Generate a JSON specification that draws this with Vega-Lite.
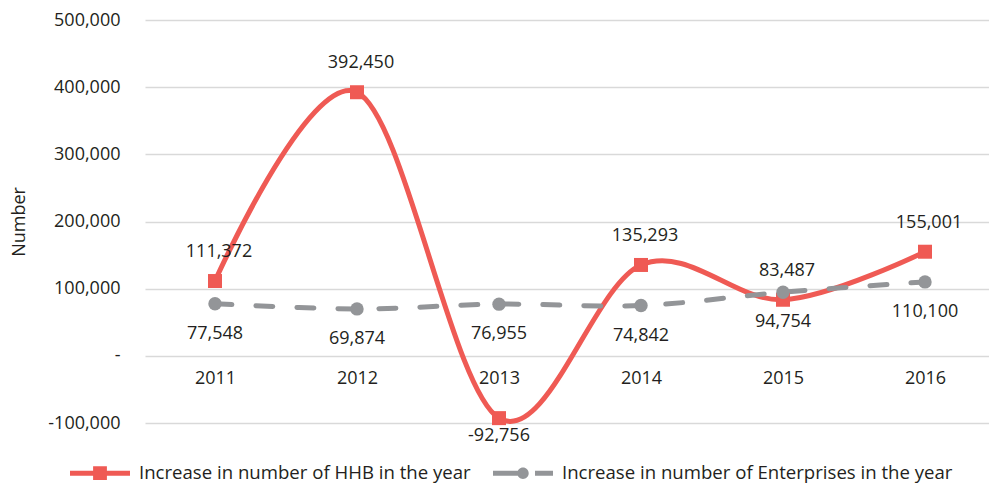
{
  "$schema": "https://vega.github.io/schema/vega-lite/v6.json",
  "width": 844,
  "height": 403,
  "autosize": {"type": "none"},
  "padding": {"left": 145, "top": 20, "right": 0, "bottom": 62},
  "config": {
    "font": "Open Sans",
    "view": {"stroke": null},
    "axis": {"labelFont": "Open Sans", "labelFontSize": 18, "labelColor": "#231f20", "titleFont": "Open Sans", "titleFontSize": 18, "titleColor": "#231f20", "titleFontWeight": "normal"}
  },
  "data": {
    "values": [
      {"year": "2011", "series": "Increase in number of HHB in the year", "value": 111372},
      {"year": "2012", "series": "Increase in number of HHB in the year", "value": 392450},
      {"year": "2013", "series": "Increase in number of HHB in the year", "value": -92756},
      {"year": "2014", "series": "Increase in number of HHB in the year", "value": 135293},
      {"year": "2015", "series": "Increase in number of HHB in the year", "value": 83487},
      {"year": "2016", "series": "Increase in number of HHB in the year", "value": 155001},
      {"year": "2011", "series": "Increase in number of Enterprises in the year", "value": 77548},
      {"year": "2012", "series": "Increase in number of Enterprises in the year", "value": 69874},
      {"year": "2013", "series": "Increase in number of Enterprises in the year", "value": 76955},
      {"year": "2014", "series": "Increase in number of Enterprises in the year", "value": 74842},
      {"year": "2015", "series": "Increase in number of Enterprises in the year", "value": 94754},
      {"year": "2016", "series": "Increase in number of Enterprises in the year", "value": 110100}
    ]
  },
  "transform": [
    {"calculate": "replace(format(datum.value, ','), '\u2212', '-')", "as": "label"}
  ],
  "encoding": {
    "x": {
      "field": "year",
      "type": "ordinal",
      "scale": {"type": "point", "padding": 0.4718, "align": 0.5224},
      "axis": {"title": null, "orient": "bottom", "offset": -67, "domain": false, "ticks": false, "labelAngle": 0, "labelPadding": 13, "grid": false}
    },
    "y": {
      "field": "value",
      "type": "quantitative",
      "scale": {"domain": [-100000, 500000], "nice": false, "zero": false},
      "axis": {
        "title": "Number",
        "values": [-100000, 0, 100000, 200000, 300000, 400000, 500000],
        "labelExpr": "datum.value == 0 ? '-' : replace(format(datum.value, ','), '\u2212', '-')",
        "domain": false,
        "ticks": false,
        "labelPadding": 25,
        "titlePadding": 19,
        "grid": true,
        "gridColor": "#d9d9d9",
        "gridWidth": 1.3
      }
    }
  },
  "layer": [
    {
      "transform": [{"filter": "datum.series == 'Increase in number of HHB in the year'"}],
      "mark": {"type": "line", "strokeWidth": 5, "interpolate": "cardinal", "strokeCap": "round"},
      "encoding": {
        "color": {
          "field": "series",
          "type": "nominal",
          "scale": {"domain": ["Increase in number of HHB in the year", "Increase in number of Enterprises in the year"], "range": ["#EF5A54", "#939598"]},
          "legend": {
            "orient": "none",
            "legendX": -75,
            "legendY": 423,
            "direction": "horizontal",
            "title": null,
            "padding": 0,
            "symbolSize": 3600,
            "labelFont": "Open Sans",
            "labelFontSize": 18.6,
            "labelColor": "#231f20",
            "labelOffset": 9,
            "columnPadding": 22,
            "labelLimit": 500,
            "encode": {
              "symbols": {
                "update": {
                  "shape": {"signal": "indexof(datum.value, 'HHB') >= 0 ? 'M-1,-0.085L1,-0.085L1,0.085L-1,0.085ZM-0.23,-0.23L0.23,-0.23L0.23,0.23L-0.23,0.23Z' : 'M-1,-0.085L-0.05,-0.085L-0.05,0.085L-1,0.085ZM0.19,0A0.19,0.19 0 1,1 -0.19,0A0.19,0.19 0 1,1 0.19,0ZM0.4,-0.085L1,-0.085L1,0.085L0.4,0.085Z'"},
                  "fill": {"signal": "indexof(datum.value, 'HHB') >= 0 ? '#EF5A54' : '#939598'"},
                  "fillOpacity": {"value": 1},
                  "strokeWidth": {"value": 0},
                  "opacity": {"value": 1}
                }
              }
            }
          }
        }
      }
    },
    {
      "transform": [{"filter": "datum.series == 'Increase in number of Enterprises in the year'"}],
      "mark": {"type": "line", "strokeWidth": 5, "interpolate": "cardinal", "strokeDash": [17, 24], "strokeCap": "round"},
      "encoding": {
        "color": {"field": "series", "type": "nominal"}
      }
    },
    {
      "transform": [{"filter": "datum.series == 'Increase in number of HHB in the year'"}],
      "mark": {"type": "point", "shape": "square", "filled": true, "size": 196, "color": "#EF5A54", "opacity": 1}
    },
    {
      "transform": [{"filter": "datum.series == 'Increase in number of Enterprises in the year'"}],
      "mark": {"type": "point", "shape": "circle", "filled": true, "size": 180, "color": "#939598", "opacity": 1}
    },
    {
      "transform": [{"filter": "datum.series == 'Increase in number of HHB in the year' && datum.value >= 0"}],
      "mark": {"type": "text", "dx": 4, "dy": -29, "fontSize": 18, "font": "Open Sans", "color": "#231f20"},
      "encoding": {"text": {"field": "label", "type": "nominal"}}
    },
    {
      "transform": [{"filter": "datum.series == 'Increase in number of HHB in the year' && datum.value < 0"}],
      "mark": {"type": "text", "dy": 18, "fontSize": 18, "font": "Open Sans", "color": "#231f20"},
      "encoding": {"text": {"field": "label", "type": "nominal"}}
    },
    {
      "transform": [{"filter": "datum.series == 'Increase in number of Enterprises in the year'"}],
      "mark": {"type": "text", "dy": 30, "fontSize": 18, "font": "Open Sans", "color": "#231f20"},
      "encoding": {"text": {"field": "label", "type": "nominal"}}
    }
  ]
}
